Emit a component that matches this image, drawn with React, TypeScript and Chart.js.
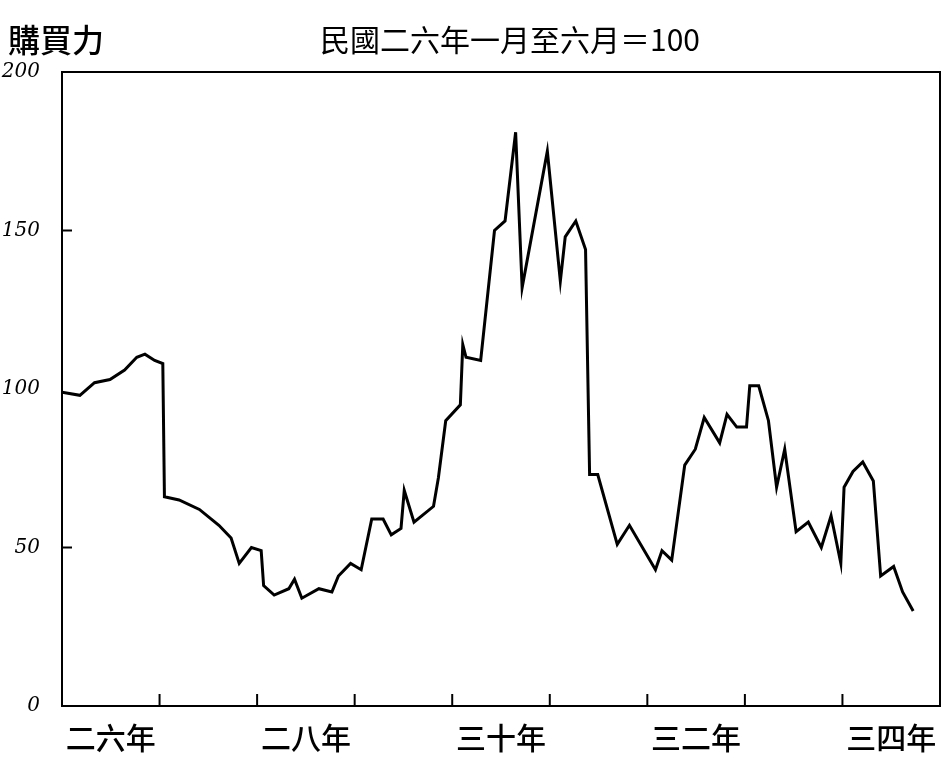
import React, { useEffect, useRef } from "react";
import { Chart, registerables } from "chart.js";

Chart.register(...registerables);

// months since 民國二六年一月 (Jan 1937)
const months = [
  0, 2.2, 4.0, 5.9, 7.7, 9.2, 10.2, 11.4, 12.4, 12.6, 14.4, 16.9, 19.3, 20.8, 21.8,
  23.3, 24.5, 24.8, 26.1, 27.9, 28.6, 29.5, 31.6, 33.2, 34.0, 35.5, 36.8, 38.1,
  39.5, 40.5, 41.7, 42.1, 43.3, 45.7, 46.3, 47.2, 49.0, 49.3, 49.7, 51.5, 53.2,
  54.5, 55.8, 56.6, 59.7, 61.3, 61.9, 63.2, 64.4, 64.9, 65.9, 68.3, 69.8, 73.0,
  73.8, 75.0, 76.6, 77.9, 79.0, 80.9, 81.8, 83.0, 84.2, 84.6, 85.7, 86.9, 87.9,
  88.9, 90.3, 91.8, 93.4, 94.6, 95.8, 96.2, 97.3, 98.5, 99.8, 100.7, 102.3,
  103.4, 104.7,
];
const purchasingPower = [
  99, 98, 102, 103, 106, 110, 111, 109, 108, 66, 65, 62, 57, 53, 45,
  50, 49, 38, 35, 37, 40, 34, 37, 36, 41, 45, 43, 59,
  59, 54, 56, 68, 58, 63, 72, 90, 95, 114, 110, 109, 150,
  153, 181, 132, 175, 134, 148, 153, 144, 73, 73, 51, 57, 43,
  49, 46, 76, 81, 91, 83, 92, 88, 88, 101, 101, 90, 69,
  81, 55, 58, 50, 60, 45, 69, 74, 77, 71, 41, 44,
  36, 30,
];
const yearLabelPositions = [6, 30, 54, 78, 102];
const yearLabels = ["二六年", "二八年", "三十年", "三二年", "三四年"];
const yearBoundaries = [12, 24, 36, 48, 60, 72, 84, 96];
const yTickValues = [0, 50, 100, 150, 200];
const yAxisTitle = "購買力";
const baseNote = "民國二六年一月至六月＝100";

const CJK = '"Noto Sans CJK SC", "Noto Sans CJK TC", sans-serif';

export default function App() {
  const ref = useRef<HTMLCanvasElement | null>(null);
  useEffect(() => {
    document.body.style.margin = "0";
    const canvas = ref.current!;
    const framePlugin = {
      id: "frame",
      afterDraw(chart: any) {
        const { ctx, chartArea: a, scales } = chart;
        ctx.save();
        ctx.strokeStyle = "#000";
        ctx.lineWidth = 2;
        ctx.strokeRect(a.left, a.top, a.right - a.left, a.bottom - a.top);
        for (const m of yearBoundaries) {
          const x = scales.x.getPixelForValue(m);
          ctx.beginPath();
          ctx.moveTo(x, a.bottom);
          ctx.lineTo(x, a.bottom - 12);
          ctx.stroke();
        }
        for (const v of [50, 150]) {
          const y = scales.y.getPixelForValue(v);
          ctx.beginPath();
          ctx.moveTo(a.left, y);
          ctx.lineTo(a.left + 10, y);
          ctx.stroke();
        }
        ctx.fillStyle = "#000";
        ctx.textBaseline = "middle";
        ctx.font = `500 32px ${CJK}`;
        ctx.textAlign = "left";
        ctx.fillText(yAxisTitle, 8, 40);
        ctx.font = `30px ${CJK}`;
        ctx.textAlign = "center";
        ctx.fillText(baseNote, 510, 40);
        ctx.restore();
      },
    };
    const chart = new Chart(canvas, {
      type: "line",
      data: {
        datasets: [
          {
            data: months.map((m, i) => ({ x: m, y: purchasingPower[i] })),
            borderColor: "#000",
            borderWidth: 3,
            pointRadius: 0,
            tension: 0,
            fill: false,
          },
        ],
      },
      options: {
        animation: false,
        responsive: false,
        maintainAspectRatio: false,
        layout: { padding: { top: 72, right: 5, left: 0, bottom: 0 } },
        plugins: { legend: { display: false }, tooltip: { enabled: false } },
        scales: {
          x: {
            type: "linear",
            min: 0,
            max: 108,
            grid: { display: false },
            border: { display: false },
            afterBuildTicks: (scale: any) => {
              scale.ticks = yearLabelPositions.map((v) => ({ value: v }));
            },
            afterFit: (scale: any) => {
              scale.height = 64;
            },
            ticks: {
              autoSkip: false,
              maxRotation: 0,
              padding: 6,
              color: "#000",
              font: { family: CJK, size: 30, weight: "500" },
              callback: (v: any) => {
                const i = yearLabelPositions.indexOf(Number(v));
                return i >= 0 ? yearLabels[i] : "";
              },
            },
          },
          y: {
            min: 0,
            max: 200,
            grid: { display: false },
            border: { display: false },
            afterBuildTicks: (scale: any) => {
              scale.ticks = yTickValues.map((v) => ({ value: v }));
            },
            afterFit: (scale: any) => {
              scale.width = 62;
            },
            ticks: {
              padding: 14,
              color: "#000",
              font: { family: "DejaVu Serif", size: 20, style: "italic" },
            },
          },
        },
      },
      plugins: [framePlugin],
    } as any);
    return () => chart.destroy();
  }, []);
  return (
    <div style={{ width: 945, height: 770, background: "#fff" }}>
      <canvas ref={ref} width={945} height={770} style={{ display: "block" }} />
    </div>
  );
}
